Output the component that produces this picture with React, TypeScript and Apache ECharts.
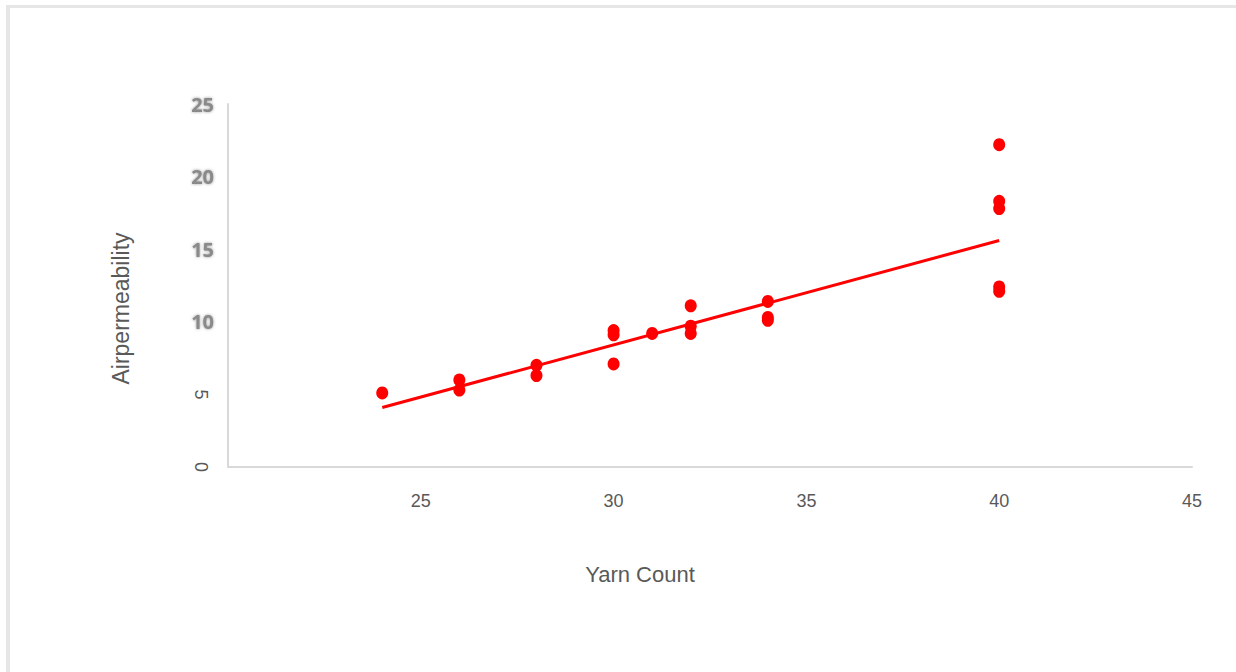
import React, { useEffect, useRef } from "react";
import * as echarts from "echarts";

// Measured samples: yarn count vs. air permeability
const yarnCount = [24, 26, 26, 28, 28, 30, 30, 30, 31, 32, 32, 32, 34, 34, 34, 40, 40, 40, 40, 40];
const airPermeability = [5.1, 6.0, 5.3, 7.0, 6.3, 9.4, 9.1, 7.1, 9.2, 11.1, 9.7, 9.2, 11.4, 10.3, 10.1, 22.2, 18.3, 17.8, 12.4, 12.1];

// Linear trendline end points
const trendX = [24, 40];
const trendY = [4.1, 15.6];

const xTicks = { min: 20, max: 45, interval: 5 };
const yTicks = { min: 0, max: 25, interval: 5 };

const narrowFont = "Liberation Sans Narrow, Liberation Sans, sans-serif";

export default function App() {
  const ref = useRef<HTMLDivElement>(null);

  useEffect(() => {
    if (!ref.current) return;
    const chart = echarts.init(ref.current, null, { renderer: "svg" });
    const points = yarnCount.map((x, i) => [x, airPermeability[i]]);
    const trend = trendX.map((x, i) => [x, trendY[i]]);

    chart.setOption({
      animation: false,
      backgroundColor: "#ffffff",
      graphic: [
        { type: "rect", shape: { x: 6, y: 5, width: 4, height: 667 }, style: { fill: "#e6e6e6" }, silent: true },
        { type: "rect", shape: { x: 6, y: 5, width: 1230, height: 3 }, style: { fill: "#e6e6e6" }, silent: true },
      ],
      grid: { left: 228, right: 44, top: 104, bottom: 205, containLabel: false },
      xAxis: {
        type: "value",
        min: xTicks.min,
        max: xTicks.max,
        interval: xTicks.interval,
        name: "Yarn Count",
        nameLocation: "middle",
        nameGap: 96,
        nameTextStyle: { color: "#595959", fontSize: 22, fontFamily: narrowFont, padding: [0, 140, 0, 0] },
        axisLine: { show: true, onZero: false, lineStyle: { color: "#d9d9d9", width: 2 } },
        axisTick: { show: false },
        splitLine: { show: false },
        axisLabel: {
          showMinLabel: false,
          margin: 25,
          color: "#595959",
          fontSize: 18,
          fontFamily: narrowFont,
        },
      },
      yAxis: [
        {
          type: "value",
          min: yTicks.min,
          max: yTicks.max,
          interval: yTicks.interval,
          name: "Airpermeability",
          nameLocation: "middle",
          nameGap: 96,
          nameRotate: 90,
          nameTextStyle: { color: "#595959", fontSize: 23, fontFamily: narrowFont, padding: [0, 46, 0, 0] },
          axisLine: { show: true, lineStyle: { color: "#d9d9d9", width: 2 } },
          axisTick: { show: false },
          splitLine: { show: false },
          axisLabel: {
            margin: 14,
            color: "#8a8a8a",
            fontSize: 20,
            fontWeight: "bold",
            fontFamily: "Open Sans, sans-serif",
            textShadowColor: "rgba(130,130,130,0.8)",
            textShadowBlur: 3,
            formatter: (v: number) => (v >= 10 ? String(v) : ""),
          },
        },
        {
          type: "value",
          position: "left",
          min: yTicks.min,
          max: yTicks.max,
          interval: yTicks.interval,
          axisLine: { show: false },
          axisTick: { show: false },
          splitLine: { show: false },
          axisLabel: {
            margin: 18,
            rotate: -90,
            color: "#595959",
            fontSize: 18,
            fontFamily: narrowFont,
            formatter: (v: number) => (v < 10 ? String(v) : ""),
          },
        },
      ],
      series: [
        {
          type: "line",
          data: trend,
          symbol: "none",
          lineStyle: { color: "#ff0000", width: 3 },
          z: 2,
        },
        {
          type: "scatter",
          data: points,
          symbol: "circle",
          symbolSize: [12, 13],
          itemStyle: { color: "#ff0000", opacity: 1 },
          z: 3,
        },
      ],
    });

    return () => chart.dispose();
  }, []);

  return (
    <div
      ref={ref}
      style={{ position: "fixed", left: 0, top: 0, width: 1236, height: 672 }}
    />
  );
}
